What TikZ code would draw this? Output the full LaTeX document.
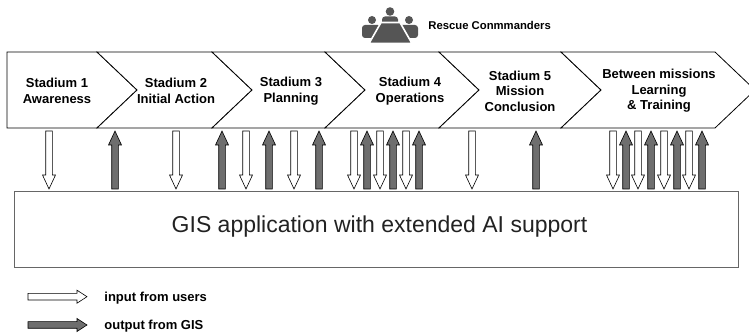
\documentclass[tikz,border=0pt]{standalone}
\usepackage{fontspec}
\setmainfont{Liberation Sans}
\usepackage{tikz}
\usetikzlibrary{positioning}
\definecolor{outgray}{HTML}{6E6E6E}
\definecolor{icongray}{HTML}{555555}
\definecolor{boxgray}{HTML}{666666}
\definecolor{textgray}{HTML}{222222}
\tikzset{every picture/.style={line width=0.8pt}}
\tikzstyle{chev}=[draw=black,fill=white,line width=0.8pt,line join=miter]
\tikzstyle{stage}=[align=center,inner sep=0pt,font=\fontsize{13}{15.5}\selectfont\bfseries]
\tikzstyle{inarr}=[draw=black,fill=white,line width=0.6pt]
\tikzstyle{outarr}=[draw=black,fill=outgray,line width=0.6pt]
\tikzstyle{legend}=[anchor=west,inner sep=0pt,font=\fontsize{13}{15}\selectfont\bfseries]

\begin{document}
\begin{tikzpicture}[x=1pt,y=-1pt]
\useasboundingbox (0,0) rectangle (749,336);
% stages
\begin{scope}
\clip (0,0) rectangle (749,336);
\draw[chev] (7,52) -- (97,52) -- (137,90) -- (97,128) -- (7,128) -- cycle;
\foreach \l/\r in {97/212,212/325,325/439,439/561,561/715}
  \draw[chev] (\l,52) -- (\r,52) -- (\r+40,90) -- (\r,128) -- (\l,128) -- (\l+40,90) -- cycle;
\end{scope}
\node[stage] (s1) at (57,91) {Stadium 1\\Awareness};
\node[stage] (s2) at (176,91) {Stadium 2\\Initial Action};
\node[stage] (s3) at (291,91) {Stadium 3\\Planning};
\node[stage] (s4) at (410,91) {Stadium 4\\Operations};
\node[stage] (s5) at (520,91) {Stadium 5\\Mission\\Conclusion};
\node[stage] (s6) at (659,91) {Between missions\\Learning\\\& Training};
% commanders
\fill[icongray] (390,11.5) circle (4.3);
\fill[icongray] (372,20) circle (4);
\fill[icongray] (409,20) circle (4);
\fill[icongray,rounded corners=3pt] (382,25) -- (382,16.5) -- (398,16.5) -- (398,25) -- cycle;
\fill[icongray,rounded corners=3pt] (362,38) -- (362,25) -- (381,25) -- (381,38) -- cycle;
\fill[icongray,rounded corners=3pt] (399,38) -- (399,25) -- (418,25) -- (418,38) -- cycle;
\filldraw[icongray,draw=white,line width=1.6pt] (381,22.5) -- (400,22.5) -- (412,43.5) -- (369,43.5) -- cycle;
\node[anchor=west,inner sep=0pt,font=\fontsize{11.3}{13}\selectfont\bfseries] (rc) at (428,25) {Rescue Conmmanders};
% GIS
\node[draw=boxgray,line width=1pt,minimum width=724pt,minimum height=76pt,inner sep=0pt] (gis) at (376,230) {};
\node[text=textgray,inner sep=0pt,font=\fontsize{23}{26}\selectfont] (gist) at (379.5,227) {GIS application with extended AI support};
% input / output
\foreach \x in {49,176,246,294,354,380,406,472,613,638,664,689}
  \draw[inarr] (\x-3.3,131) -- (\x+3.3,131) -- (\x+3.3,175) -- (\x+6.5,175) -- (\x,189) -- (\x-6.5,175) -- (\x-3.3,175) -- cycle;
\foreach \x in {115,222,269,319,367,393,419,536,626,651,677,702}
  \draw[outarr] (\x-3.3,189) -- (\x+3.3,189) -- (\x+3.3,145) -- (\x+6.5,145) -- (\x,131) -- (\x-6.5,145) -- (\x-3.3,145) -- cycle;
% legend
\draw[inarr] (28,293.4) -- (77,293.4) -- (77,290.2) -- (87,296.7) -- (77,303.2) -- (77,300) -- (28,300) -- cycle;
\draw[outarr] (28,321.7) -- (77,321.7) -- (77,318.5) -- (87,325) -- (77,331.5) -- (77,328.3) -- (28,328.3) -- cycle;
\node[legend] (lin) at (104,298) {input from users};
\node[legend] (lout) at (104,326.5) {output from GIS};
\end{tikzpicture}
\end{document}
